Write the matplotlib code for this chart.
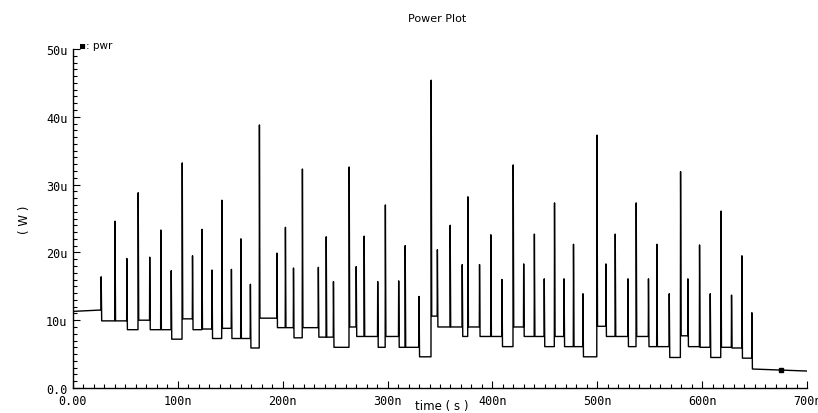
import numpy as np
import matplotlib
matplotlib.use("Agg")
import matplotlib.pyplot as plt
from matplotlib.ticker import MultipleLocator, FuncFormatter

# waveform (time in ns, power in uW)
start_level = [11.3, 11.5]

spike_t = [26.7, 39.9, 51.2, 62.0, 73.0, 83.6, 93.5, 104.0, 113.8, 122.8,
           132.4, 141.8, 150.9, 159.9, 169.0, 177.6, 194.3, 202.4, 210.1, 218.6,
           233.8, 241.3, 248.2, 263.2, 269.9, 277.5, 290.4, 297.7, 310.4, 316.6,
           329.8, 341.4, 347.3, 359.5, 371.0, 376.4, 387.5, 398.3, 408.9, 419.6,
           429.6, 439.8, 449.2, 459.0, 468.1, 477.1, 486.1, 499.5, 508.0, 516.9,
           529.0, 536.9, 548.6, 556.6, 568.4, 579.2, 586.2, 597.3, 607.5, 617.7,
           627.8, 637.7, 647.2]
spike_peak = [16.4, 24.6, 19.1, 28.8, 19.3, 23.3, 17.3, 33.2, 19.5, 23.4,
              17.4, 27.7, 17.5, 22.0, 15.3, 38.8, 19.9, 23.7, 17.7, 32.3,
              17.8, 22.3, 15.7, 32.6, 17.9, 22.4, 15.7, 27.0, 15.8, 21.0,
              13.5, 45.4, 20.4, 24.0, 18.2, 28.2, 18.2, 22.6, 16.0, 32.9,
              18.3, 22.7, 16.1, 27.3, 16.1, 21.2, 13.9, 37.3, 18.3, 22.7,
              16.1, 27.3, 16.1, 21.2, 13.9, 31.9, 16.1, 21.1, 13.9, 26.1,
              13.7, 19.5, 11.1]
level_after = [9.9, 9.9, 8.6, 10.0, 8.6, 8.6, 7.2, 10.2, 8.6, 8.7,
               7.3, 8.8, 7.3, 7.3, 5.9, 10.3, 8.9, 8.9, 7.4, 8.9,
               7.5, 7.5, 6.0, 9.0, 7.6, 7.6, 6.0, 7.6, 6.0, 6.0,
               4.6, 10.6, 9.0, 9.0, 7.6, 9.0, 7.6, 7.6, 6.1, 9.0,
               7.6, 7.6, 6.1, 7.6, 6.1, 6.1, 4.6, 9.1, 7.6, 7.6,
               6.1, 7.6, 6.1, 6.1, 4.5, 7.7, 6.1, 6.0, 4.5, 6.0,
               5.9, 4.4, 2.8]
end_t = 700.0
end_level = 2.5
marker_pt = (675.0, 2.6)


def build_trace():
    t = [0.0]
    v = [start_level[0]]
    prev = start_level[1]
    for ts, pk, lv in zip(spike_t, spike_peak, level_after):
        t += [ts, ts + 0.2, ts + 0.7]
        v += [prev, pk, lv]
        prev = lv
    t.append(end_t)
    v.append(end_level)
    return np.array(t) * 1e-9, np.array(v) * 1e-6


def eng(x, pos):
    if x == 0:
        return "0.0" if abs(x) < 1 and pos is not None and pos >= 0 else "0"
    return x


def main():
    t, v = build_trace()

    fig = plt.figure(figsize=(8.18, 4.14), dpi=100)
    ax = fig.add_axes([0.0892, 0.0604, 0.8974, 0.8188])
    ax.plot(t, v, color="black", lw=1.0)
    ax.plot(marker_pt[0] * 1e-9, marker_pt[1] * 1e-6, marker="s", ms=2.5, color="black")

    ax.set_xlim(0, 700e-9)
    ax.set_ylim(0, 50e-6)

    for s in ["top", "right"]:
        ax.spines[s].set_visible(False)
    for s in ["left", "bottom"]:
        ax.spines[s].set_linewidth(1.0)

    ax.xaxis.set_major_locator(MultipleLocator(100e-9))
    ax.xaxis.set_minor_locator(MultipleLocator(10e-9))
    ax.yaxis.set_major_locator(MultipleLocator(10e-6))
    ax.yaxis.set_minor_locator(MultipleLocator(1e-6))

    ax.xaxis.set_major_formatter(FuncFormatter(
        lambda x, p: "0.00" if abs(x) < 1e-12 else "%dn" % round(x * 1e9)))
    ax.yaxis.set_major_formatter(FuncFormatter(
        lambda y, p: "0.0" if abs(y) < 1e-12 else "%du" % round(y * 1e6)))

    ax.tick_params(which="both", direction="in", colors="black",
                   labelsize=8.5, width=0.8)
    ax.tick_params(which="major", length=5, pad=4)
    ax.tick_params(which="minor", length=3)
    for lab in ax.get_xticklabels() + ax.get_yticklabels():
        lab.set_family("DejaVu Sans Mono")

    fig.text(0.534, 0.955, "Power Plot", ha="center", va="center", fontsize=8)
    fig.text(0.54, 0.018, "time ( s )", ha="center", va="center", fontsize=8.5)
    fig.text(0.03, 0.47, "( W )", ha="center", va="center", rotation=90, fontsize=8.5)
    fig.text(0.096, 0.888, "\u25aa: pwr", ha="left", va="center", fontsize=7.5)

    fig.savefig("out.png", dpi=100)


if __name__ == "__main__":
    main()
